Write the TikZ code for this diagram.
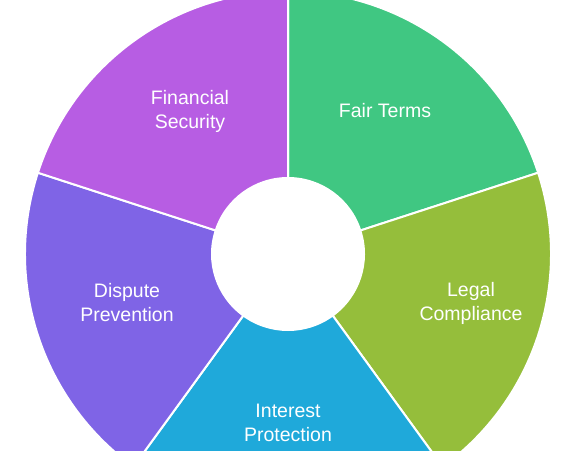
\documentclass[tikz,border=0pt]{standalone}
\usepackage{fontspec}
\setmainfont{Liberation Sans}
\usetikzlibrary{calc}
\definecolor{cfair}{HTML}{40C782}
\definecolor{clegal}{HTML}{95BE3B}
\definecolor{cinterest}{HTML}{1FA9DA}
\definecolor{cdispute}{HTML}{7F64E6}
\definecolor{cfinancial}{HTML}{B75DE3}
\tikzset{
  sector/.style={draw=white, line width=2pt, line join=round},
  lbl/.style={text=white, font=\fontsize{19.5}{24}\selectfont, align=center, inner sep=0pt}
}
\newcommand{\mysector}[3]{%
  \path[sector, fill=#3] ($(c)+(#1:263)$) arc[start angle=#1, end angle=#2, radius=263]
    -- ($(c)+(#2:76)$) arc[start angle=#2, end angle=#1, radius=76] -- cycle;}
\begin{document}
\begin{tikzpicture}[x=1pt,y=1pt]
\useasboundingbox (0,0) rectangle (577,450);
\clip (0,0) rectangle (577,450);
\coordinate (c) at (288,196);
\mysector{18}{90}{cfair}
\mysector{-54}{18}{clegal}
\mysector{-126}{-54}{cinterest}
\mysector{-198}{-126}{cdispute}
\mysector{90}{162}{cfinancial}
\node[lbl] (fair) at (385,339) {Fair Terms};
\node[lbl] (legal) at (471,147) {Legal\\Compliance};
\node[lbl] (interest) at (288,27) {Interest\\Protection};
\node[lbl] (dispute) at (127,147) {Dispute\\Prevention};
\node[lbl] (financial) at (190,339) {Financial\\Security};
\end{tikzpicture}
\end{document}
